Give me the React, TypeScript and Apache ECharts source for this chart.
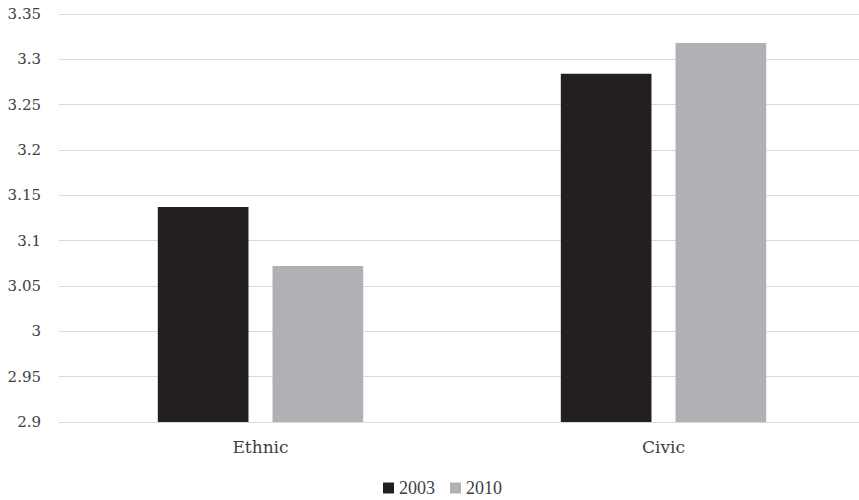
import React, { useEffect, useRef } from "react";
import * as echarts from "echarts";

const categories = ["Ethnic", "Civic"];
const seriesNames = ["2003", "2010"];
const values2003 = [3.137, 3.284];
const values2010 = [3.072, 3.318];
const colors = ["#231f20", "#b0b1b4"];

export default function App() {
  const ref = useRef<HTMLDivElement>(null);
  useEffect(() => {
    const chart = echarts.init(ref.current!, null, { renderer: "svg" });
    const legendFont = "Liberation Serif";
    const axisFont = "DejaVu Serif";
    chart.setOption({
      animation: false,
      textStyle: { fontFamily: legendFont },
      grid: { left: 59, right: -6, top: 14, bottom: 78, outerBoundsMode: "none", containLabel: false },
      legend: {
        bottom: -2,
        left: 378,
        itemWidth: 11,
        itemHeight: 11,
        itemGap: 15,
        icon: "rect",
        textStyle: { fontFamily: legendFont, fontSize: 18, color: "#404040" },
        data: seriesNames,
      },
      xAxis: {
        type: "category",
        data: categories,
        axisLine: { lineStyle: { color: "#d9d9d9" } },
        axisTick: { show: false },
        axisLabel: { fontFamily: axisFont, fontSize: 17, color: "#404040", margin: 16 },
      },
      yAxis: {
        type: "value",
        min: 2.9,
        max: 3.35,
        interval: 0.05,
        axisLine: { show: false },
        axisTick: { show: false },
        splitLine: { lineStyle: { color: "#d9d9d9" } },
        axisLabel: {
          fontFamily: axisFont,
          fontSize: 15,
          color: "#404040",
          margin: 18,
          formatter: (v: number) => String(parseFloat(v.toFixed(2))),
        },
      },
      series: [
        {
          name: seriesNames[0],
          type: "bar",
          data: values2003,
          barWidth: "22.5%",
          barGap: "26.5%",
          itemStyle: { color: colors[0] },
        },
        {
          name: seriesNames[1],
          type: "bar",
          data: values2010,
          barWidth: "22.5%",
          itemStyle: { color: colors[1] },
        },
      ],
    });
    return () => chart.dispose();
  }, []);
  return (
    <div
      ref={ref}
      style={{ position: "fixed", left: 0, top: 0, width: 859, height: 500, background: "#fff" }}
    />
  );
}
